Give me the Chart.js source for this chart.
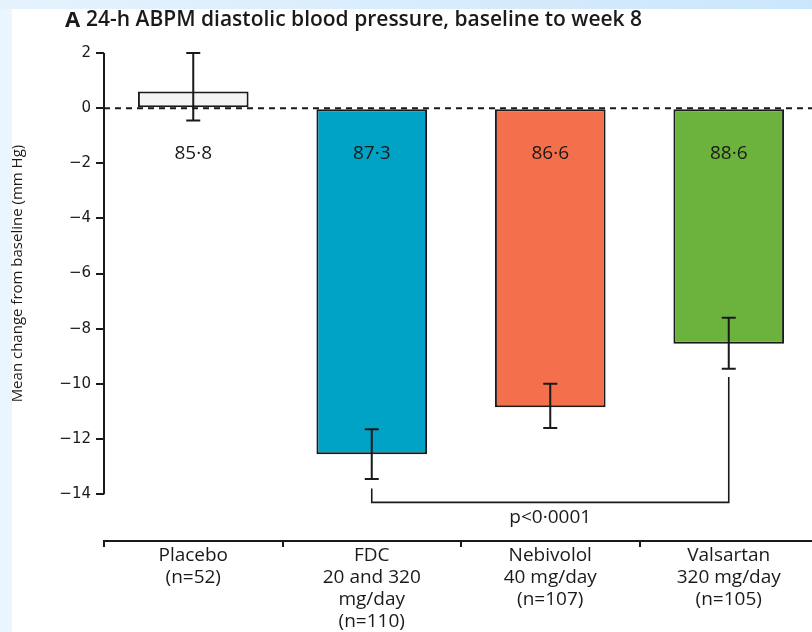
<!DOCTYPE html>
<html lang="en">
<head>
<meta charset="UTF-8">
<title>24-h ABPM diastolic blood pressure</title>
<script src="https://cdn.jsdelivr.net/npm/chart.js"></script>
<style>
  html, body { margin: 0; padding: 0; width: 812px; height: 632px; overflow: hidden; }
  body { position: relative; background: #eaf5fe; }
  .topband { position: absolute; left: 0; top: 0; width: 812px; height: 9px; background: linear-gradient(to right, #e6f3fd, #cbe6fb); }
  .sheet { position: absolute; left: 12px; top: 9px; right: 0; bottom: 0; background: #fff; }
  #chart { position: absolute; left: 0; top: 0; }
</style>
</head>
<body>
<div class="topband"></div>
<div class="sheet"></div>
<canvas id="chart" width="840" height="632"></canvas>

<script>
  const categories = [
    ['Placebo', '(n=52)'],
    ['FDC', '20 and 320', 'mg/day', '(n=110)'],
    ['Nebivolol', '40 mg/day', '(n=107)'],
    ['Valsartan', '320 mg/day', '(n=105)']
  ];
  const meanChange = [0.6, -12.55, -10.85, -8.55];
  const errUpper = [2.0, -11.65, -10.0, -7.6];
  const errLower = [-0.45, -13.45, -11.6, -9.45];
  const baselineLabels = ['85·8', '87·3', '86·6', '88·6'];
  const barColors = ['#f4f4f4', '#00a2c6', '#f46f4c', '#6cb33e'];
  const yTicks = [2, 0, -2, -4, -6, -8, -10, -12, -14];
  const yTitle = 'Mean change from baseline (mm Hg)';

  // FDC vs valsartan comparison bracket (in mm Hg units)
  const bracketFrom = 1, bracketTo = 3;
  const bracketEnds = [-13.8, -9.75];
  const bracketLevel = -14.3;
  const pLabel = 'p<0·0001';

  const ink = '#1a1a1a';

  const extras = {
    id: 'extras',
    beforeDatasetsDraw(chart) {
      const { ctx, chartArea, scales: { y } } = chart;
      const y0 = y.getPixelForValue(0);
      ctx.save();
      ctx.strokeStyle = ink;
      ctx.lineWidth = 2;
      ctx.setLineDash([6, 5]);
      ctx.beginPath();
      ctx.moveTo(chartArea.left, y0);
      ctx.lineTo(chartArea.right, y0);
      ctx.stroke();
      ctx.restore();
    },
    afterDatasetsDraw(chart) {
      const { ctx, chartArea, scales: { x, y } } = chart;
      const yTop = y.getPixelForValue(yTicks[0]);
      const yBot = y.getPixelForValue(yTicks[yTicks.length - 1]);
      ctx.save();
      ctx.strokeStyle = ink;
      ctx.fillStyle = ink;

      // y axis line, only over the ticked range
      ctx.lineWidth = 2;
      ctx.beginPath();
      ctx.moveTo(chartArea.left, yTop);
      ctx.lineTo(chartArea.left, yBot);
      ctx.stroke();

      // axis title centred on that range
      ctx.save();
      ctx.translate(18, (yTop + yBot) / 2);
      ctx.rotate(-Math.PI / 2);
      ctx.font = '15px "Open Sans"';
      ctx.textAlign = 'center';
      ctx.textBaseline = 'middle';
      ctx.fillText(yTitle, 0, 0);
      ctx.restore();

      // error bars
      meanChange.forEach((v, i) => {
        const cx = x.getPixelForValue(i);
        const top = y.getPixelForValue(errUpper[i]);
        const bot = y.getPixelForValue(errLower[i]);
        ctx.beginPath();
        ctx.moveTo(cx, top); ctx.lineTo(cx, bot);
        ctx.moveTo(cx - 7, top); ctx.lineTo(cx + 7, top);
        ctx.moveTo(cx - 7, bot); ctx.lineTo(cx + 7, bot);
        ctx.stroke();
      });

      // baseline values
      ctx.font = '19px "Open Sans"';
      ctx.textAlign = 'center';
      ctx.textBaseline = 'middle';
      baselineLabels.forEach((t, i) => {
        ctx.fillText(t, x.getPixelForValue(i), y.getPixelForValue(-1.65));
      });

      // bracket + p value
      const x1 = x.getPixelForValue(bracketFrom);
      const x2 = x.getPixelForValue(bracketTo);
      const yl = y.getPixelForValue(bracketLevel);
      ctx.lineWidth = 1.6;
      ctx.beginPath();
      ctx.moveTo(x1, y.getPixelForValue(bracketEnds[0]));
      ctx.lineTo(x1, yl);
      ctx.lineTo(x2, yl);
      ctx.lineTo(x2, y.getPixelForValue(bracketEnds[1]));
      ctx.stroke();
      ctx.fillText(pLabel, (x1 + x2) / 2, y.getPixelForValue(-14.85));
      ctx.restore();
    },
    afterDraw(chart) {
      const ctx = chart.ctx;
      ctx.save();
      ctx.fillStyle = ink;
      ctx.textBaseline = 'alphabetic';
      ctx.font = 'bold 22px "Open Sans"';
      ctx.fillText('A', 65, 27);
      ctx.font = '600 21px "Open Sans"';
      ctx.fillText('24-h ABPM diastolic blood pressure, baseline to week 8', 86, 26);
      ctx.restore();
    }
  };

  new Chart(document.getElementById('chart'), {
    type: 'bar',
    data: {
      labels: categories,
      datasets: [{
        data: meanChange,
        backgroundColor: barColors,
        borderColor: ink,
        borderWidth: 2,
        borderSkipped: false,
        barPercentage: 0.62,
        categoryPercentage: 1.0
      }]
    },
    options: {
      responsive: false,
      animation: false,
      layout: { padding: { top: 53, right: 22, bottom: 0, left: 0 } },
      plugins: { legend: { display: false }, tooltip: { enabled: false } },
      scales: {
        x: {
          afterFit(scale) { scale.height = 91; },
          border: { display: true, color: ink, width: 2 },
          grid: { offset: true, drawOnChartArea: false, drawTicks: true, tickLength: 6, color: ink, lineWidth: 2 },
          ticks: { color: ink, font: { family: 'Open Sans', size: 19, lineHeight: 1.15 }, padding: -2, maxRotation: 0, autoSkip: false }
        },
        y: {
          min: -15.7,
          max: 2,
          afterFit(scale) { scale.width = 104; },
          afterBuildTicks(scale) { scale.ticks = yTicks.map(v => ({ value: v })); },
          border: { display: false },
          grid: { drawOnChartArea: false, drawTicks: true, tickLength: 8, color: ink, lineWidth: 2 },
          ticks: {
            color: ink,
            padding: 5,
            font: { family: 'DejaVu Sans', size: 15 },
            callback: v => v < 0 ? '\u2212' + Math.abs(v) : String(v)
          }
        }
      }
    },
    plugins: [extras]
  });
</script>
</body>
</html>
